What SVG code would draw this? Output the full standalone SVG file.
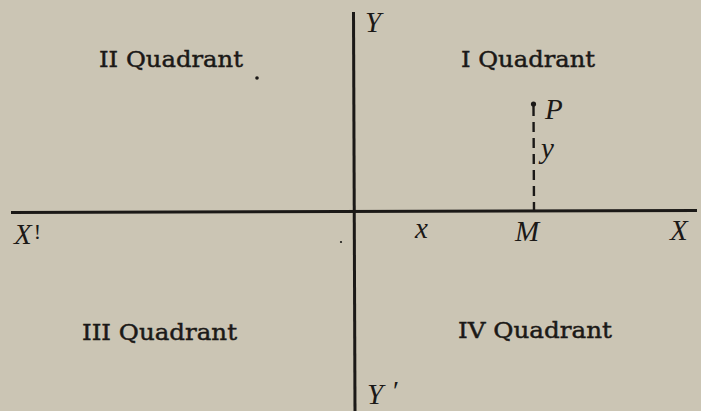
<svg xmlns="http://www.w3.org/2000/svg" width="701" height="411" viewBox="0 0 701 411">
  <style>
    .axis { stroke: #1b1917; stroke-width: 3; fill: none; stroke-linecap: butt; }
    .dash { stroke: #1b1917; stroke-width: 2.4; fill: none; stroke-dasharray: 10 6; }
    .quad { font-family: "DejaVu Serif", "Liberation Serif", serif; font-size: 22.5px; fill: #1b1917; stroke: #1b1917; stroke-width: 0.45; }
    .var { font-family: "Liberation Serif", "DejaVu Serif", serif; font-style: italic; font-size: 29px; fill: #1b1917; }
    .dot { fill: #1b1917; }
  </style>
  <rect width="701" height="411" fill="#cbc5b4"/>
  <g id="connectors">
    <line class="axis" x1="11" y1="212.5" x2="697" y2="210.5"/>
    <line class="axis" x1="353.5" y1="12" x2="355" y2="411"/>
    <line class="dash" x1="533.5" y1="106" x2="534" y2="210"/>
  </g>
  <g id="point-P">
    <circle class="dot" cx="533.5" cy="104" r="2.6"/>
    <text class="var" x="545" y="119">P</text>
  </g>
  <g id="label-y"><text class="var" x="541" y="158" font-size="25">y</text></g>
  <g id="label-x"><text class="var" x="415" y="238" font-size="25">x</text></g>
  <g id="label-M"><text class="var" x="515" y="241">M</text></g>
  <g id="label-X"><text class="var" x="670" y="240">X</text></g>
  <g id="label-X-prime"><text class="var" x="14" y="244">X<tspan font-style="normal" font-size="22" dx="2" dy="-5">!</tspan></text></g>
  <g id="label-Y"><text class="var" x="365" y="32">Y</text></g>
  <g id="label-Y-prime"><text class="var" x="367" y="404">Y<tspan font-size="28" dx="8" dy="-4">′</tspan></text></g>
  <g id="quadrant-I"><text class="quad" x="461" y="67" textLength="134" lengthAdjust="spacingAndGlyphs">I Quadrant</text></g>
  <g id="quadrant-II"><text class="quad" x="99" y="67" textLength="144" lengthAdjust="spacingAndGlyphs">II Quadrant</text></g>
  <g id="quadrant-III"><text class="quad" x="82" y="340" textLength="155" lengthAdjust="spacingAndGlyphs">III Quadrant</text></g>
  <g id="quadrant-IV"><text class="quad" x="458" y="338" textLength="154" lengthAdjust="spacingAndGlyphs">IV Quadrant</text></g>
  <g id="specks">
    <circle class="dot" cx="257" cy="78" r="1.8"/>
    <circle class="dot" cx="341" cy="242" r="1.1"/>
  </g>
</svg>
